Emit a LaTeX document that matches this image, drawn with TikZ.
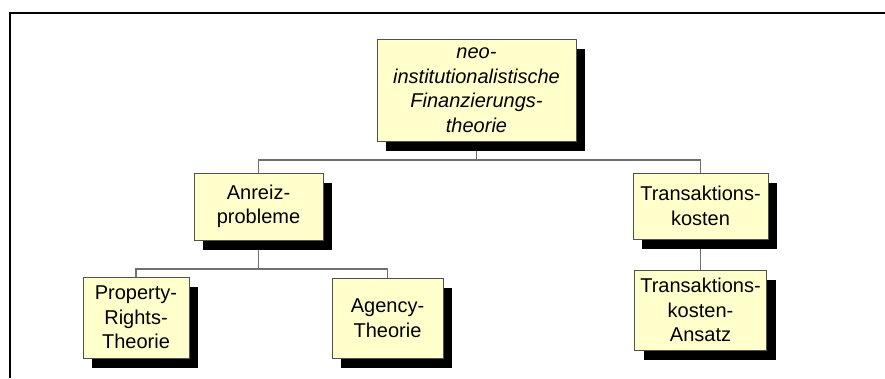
\documentclass[tikz,border=0pt]{standalone}
\usepackage{fontspec}
\setmainfont{Liberation Sans}
\usetikzlibrary{shadows,backgrounds}
\definecolor{boxfill}{HTML}{FFFFCC}
\definecolor{boxline}{HTML}{505050}
\definecolor{conline}{HTML}{707070}
\tikzset{
  orgbox/.style={draw=boxline, line width=0.9pt, fill=boxfill, align=center,
    inner sep=0pt, font=\fontsize{20}{24.5}\selectfont,
    drop shadow={fill=black, opacity=1, shadow xshift=9pt, shadow yshift=-10pt}},
  conn/.style={draw=conline, line width=1.1pt},
  frameline/.style={draw=black, line width=2.8pt}
}
\begin{document}
\begin{tikzpicture}[x=1pt,y=-1pt]
\useasboundingbox (0,0) rectangle (885,378);
\node[orgbox, minimum width=199pt, minimum height=102pt, font=\fontsize{20}{24.5}\selectfont\itshape] (root) at (476.5,90)
  {neo-\\institutionalistische\\Finanzierungs-\\theorie};
\node[orgbox, minimum width=129pt, minimum height=67pt] (anreiz) at (258.5,206.5) {Anreiz-\\probleme};
\node[orgbox, minimum width=135pt, minimum height=66pt] (trans) at (700.5,206) {Transaktions-\\kosten};
\node[orgbox, minimum width=106pt, minimum height=81pt] (prop) at (136,317.5) {Property-\\Rights-\\Theorie};
\node[orgbox, minimum width=111pt, minimum height=80pt] (agency) at (387.5,318) {Agency-\\Theorie};
\node[orgbox, minimum width=132pt, minimum height=80pt] (ansatz) at (700.5,310) {Transaktions-\\kosten-\\Ansatz};
\coordinate (j1) at (476.5,160);
\coordinate (j2) at (258.5,269);
\coordinate (fa) at (10,13);
\coordinate (fb) at (885,13);
\coordinate (fc) at (10,378);
\begin{scope}[on background layer]
  \fill[white] (0,0) rectangle (885,378);
  \draw[conn] (root.south) -- (j1);
  \draw[conn] (j1) -| (anreiz.north);
  \draw[conn] (j1) -| (trans.north);
  \draw[conn] (anreiz.south) -- (j2);
  \draw[conn] (j2) -| (prop.north);
  \draw[conn] (j2) -| (agency.north);
  \draw[conn] (trans.south) -- (ansatz.north);
\end{scope}
\draw[frameline] (fc) -- (fa) -- (fb);
\end{tikzpicture}
\end{document}
